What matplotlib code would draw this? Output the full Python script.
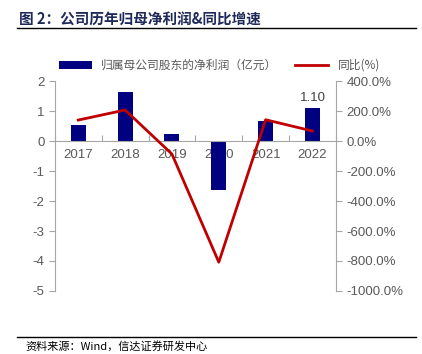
import matplotlib
matplotlib.use('Agg')
import matplotlib.pyplot as plt
from matplotlib.lines import Line2D

plt.rcParams['font.family'] = ['Liberation Sans', 'Noto Sans CJK SC', 'DejaVu Sans']
plt.rcParams['axes.unicode_minus'] = False

# data
years = ['2017', '2018', '2019', '2020', '2021', '2022']
profit = [0.53, 1.63, 0.22, -1.63, 0.66, 1.10]   # 亿元
yoy = [140, 207, -87, -808, 142, 67]              # %

grey = '#595959'
fig = plt.figure(figsize=(4.22, 3.54), dpi=100)
ax = fig.add_axes([0.130, 0.178, 0.666, 0.593])
ax2 = ax.twinx()

x = list(range(len(years)))
bars = ax.bar(x, profit, width=0.32, color='#000080', zorder=2,
              label='归属母公司股东的净利润（亿元）')
ax.text(x[-1], profit[-1] + 0.12, '%.2f' % profit[-1], ha='center', va='bottom',
        fontsize=9.5, color='#404040')
ln, = ax2.plot(x, yoy, color='#C00000', lw=2, zorder=3, label='同比(%)')

ax.set_xlim(-0.5, 5.5)
ax.set_ylim(-5, 2)
ax.set_yticks(range(-5, 3))
ax2.set_ylim(-1000, 400)
ax2.set_yticks(range(-1000, 401, 200))
ax2.set_yticklabels(['%.1f%%' % v for v in range(-1000, 401, 200)])

# x-axis at zero
ax.spines['bottom'].set_position(('data', 0))
for a in (ax, ax2):
    a.spines['top'].set_visible(False)
    for s in ('left', 'right', 'bottom'):
        a.spines[s].set_color('#a6a6a6')
ax.spines['right'].set_visible(False)
ax2.spines['left'].set_visible(False)
ax2.spines['bottom'].set_visible(False)

ax.set_xticks([i + 0.5 for i in range(-1, 6)])
ax.set_xticklabels([])
ax.set_xticks(x, minor=True)
ax.set_xticklabels(years, minor=True)
ax.tick_params(axis='x', which='major', length=4, direction='in', color='#a6a6a6')
ax.tick_params(axis='x', which='minor', length=0, pad=6, labelsize=9.5, labelcolor=grey)
ax.tick_params(axis='y', length=4, color='#a6a6a6', labelsize=9.5, labelcolor=grey)
ax2.tick_params(axis='y', length=4, color='#a6a6a6', labelsize=9.5, labelcolor=grey)

handles = [bars, ln]
leg = fig.legend(handles, [h.get_label() for h in handles], loc='center',
                 bbox_to_anchor=(0.52, 0.815), ncol=2, frameon=False,
                 handlelength=2.8, columnspacing=1.5,
                 prop={'family': ['Noto Sans CJK SC'], 'size': 8.5})
for t in leg.get_texts():
    t.set_color(grey)

# title and source
fig.text(0.045, 0.945, '图 2：公司历年归母净利润&同比增速', fontsize=10.5,
         fontweight='bold', color='#1f2a5a', family=['Noto Sans CJK SC'], va='center')
fig.add_artist(Line2D([0.04, 0.985], [0.922, 0.922], color='black', lw=1))
fig.add_artist(Line2D([0.04, 0.985], [0.048, 0.048], color='black', lw=1))
fig.text(0.06, 0.022, '资料来源：Wind，信达证券研发中心', fontsize=8, style='italic',
         color='black', family=['Noto Sans CJK SC'], va='center')

fig.savefig('out.png', dpi=100)
